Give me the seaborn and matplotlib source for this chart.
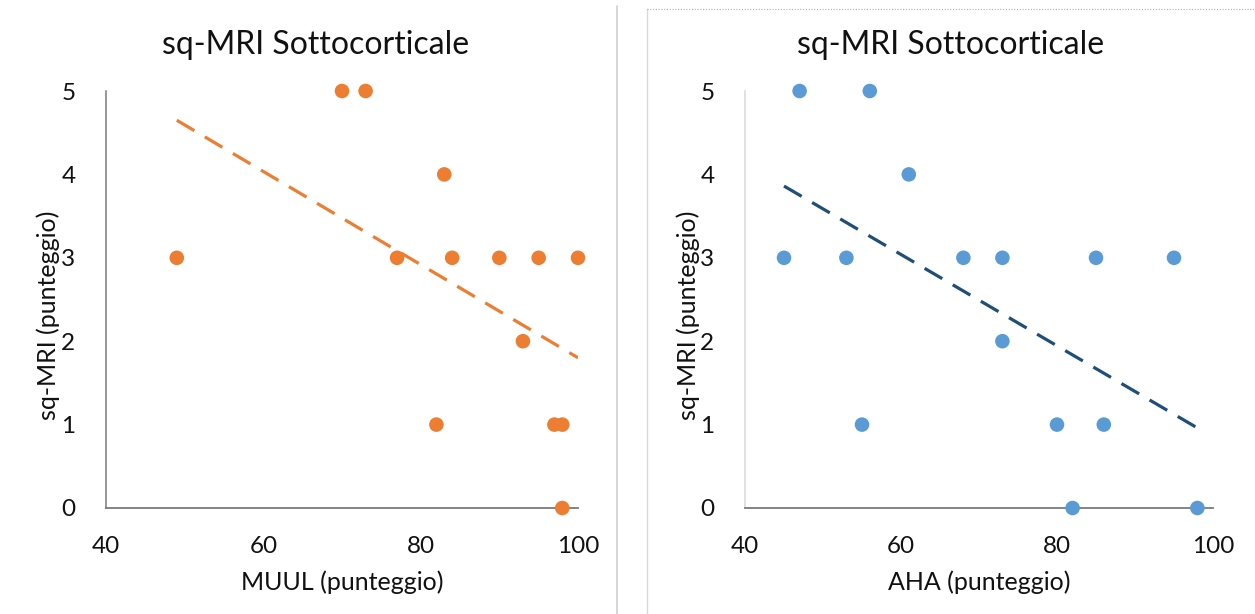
import pandas as pd
import seaborn as sns
import matplotlib.pyplot as plt
from matplotlib.lines import Line2D

# values
muul = [49, 70, 73, 83, 77, 84, 90, 95, 100, 93, 82, 97, 98, 98]
sq_mri_muul = [3, 5, 5, 4, 3, 3, 3, 3, 3, 2, 1, 1, 1, 0]

aha = [47, 56, 61, 45, 53, 68, 73, 85, 95, 73, 55, 80, 86, 82, 98]
sq_mri_aha = [5, 5, 4, 3, 3, 3, 3, 3, 3, 2, 1, 1, 1, 0, 0]

title = "sq-MRI Sottocorticale"
ylab = "sq-MRI (punteggio)"
xlabs = ["MUUL (punteggio)", "AHA (punteggio)"]
xticks = [40, 60, 80, 100]
yticks = [0, 1, 2, 3, 4, 5]

sns.set_style("white")
plt.rcParams["font.family"] = ["Lato", "DejaVu Sans"]

ORANGE = "#ED7D31"
BLUE = "#5B9BD5"
NAVY = "#1F4E79"


def panel(ax, df, xcol, point_color, line_color, left_spine):
    sns.scatterplot(data=df, x=xcol, y="sq", ax=ax, color=point_color,
                    s=110, edgecolor="none", clip_on=False, zorder=3)
    sns.regplot(data=df, x=xcol, y="sq", ax=ax, scatter=False, ci=None,
                truncate=True, color=line_color,
                line_kws=dict(lw=2.3, ls=(0, (6.4, 3.8)), zorder=2))
    ax.set_xlim(40, 100)
    ax.set_ylim(0, 5)
    ax.set_xticks(xticks)
    ax.set_yticks(yticks)
    ax.tick_params(axis="x", length=0, pad=20, labelsize=17.5, labelcolor="#111111")
    ax.tick_params(axis="y", length=0, pad=22, labelsize=17.5, labelcolor="#111111")
    for s in ["top", "right"]:
        ax.spines[s].set_visible(False)
    ax.spines["bottom"].set_color("#7a7a7a")
    ax.spines["bottom"].set_linewidth(1.3)
    ax.spines["left"].set_color(left_spine)
    ax.spines["left"].set_linewidth(1.1)
    ax.set_xlabel("")
    ax.set_ylabel("")


fig = plt.figure(figsize=(12.55, 6.14), dpi=100)
W, H = 1255, 614

ax1 = fig.add_axes([106 / W, 1 - 508 / H, 472 / W, 417 / H])
ax2 = fig.add_axes([745 / W, 1 - 508 / H, 468 / W, 417 / H])

df1 = pd.DataFrame({"MUUL": muul, "sq": sq_mri_muul})
df2 = pd.DataFrame({"AHA": aha, "sq": sq_mri_aha})

panel(ax1, df1, "MUUL", ORANGE, ORANGE, "#7a7a7a")
panel(ax2, df2, "AHA", BLUE, NAVY, "#d9d9d9")

# titles and axis labels placed like in the Excel chart areas
for cx, ylx in [(316, 48), (951, 688)]:
    fig.text(cx / W, 1 - 45 / H, title, ha="center", va="center",
             fontsize=23, color="#111111")
    fig.text(ylx / W, 1 - 315 / H, ylab, rotation=90, ha="center",
             va="center", fontsize=18, color="#111111")
for ax, xl in zip([ax1, ax2], xlabs):
    pos = ax.get_position()
    fig.text((pos.x0 + pos.x1) / 2, 1 - 582 / H, xl, ha="center",
             va="center", fontsize=18, color="#111111")

# frame lines between the two pasted charts
fig.add_artist(Line2D([617 / W, 617 / W], [0, 1 - 6 / H], color="#d0d0d0", lw=1.2))
fig.add_artist(Line2D([647 / W, 647 / W], [0, 1 - 9 / H], color="#d9d9d9", lw=1))
fig.add_artist(Line2D([647 / W, 1], [1 - 9 / H, 1 - 9 / H], color="#b0b0b0",
                      lw=0.8, ls=(0, (1, 1.5))))

fig.savefig("out.png", dpi=100)
